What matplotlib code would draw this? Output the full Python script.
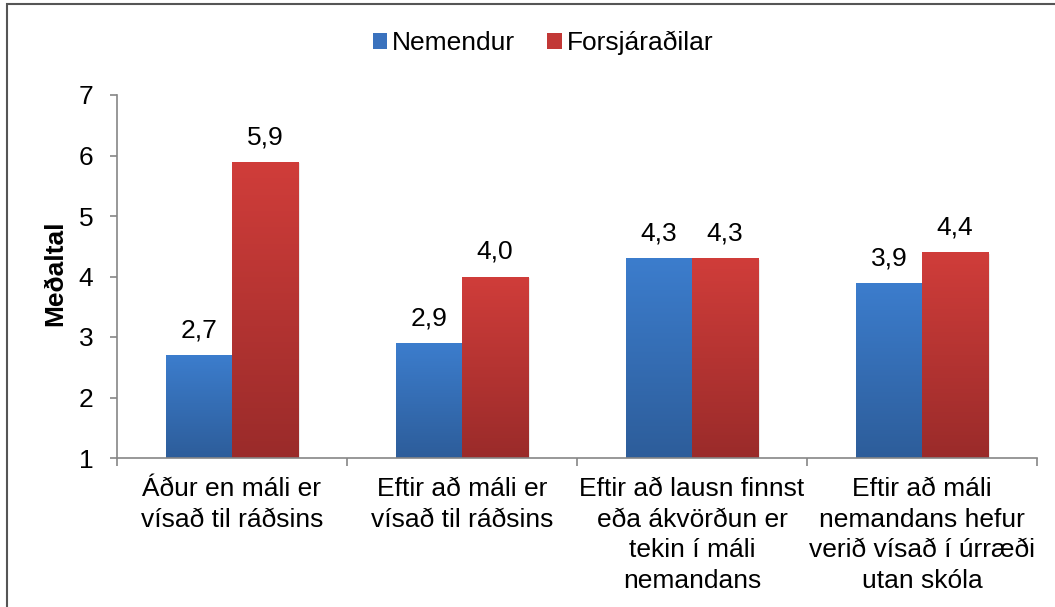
import matplotlib
matplotlib.use("Agg")
import matplotlib.pyplot as plt
import numpy as np
from matplotlib.patches import Rectangle, Patch
from matplotlib.colors import LinearSegmentedColormap

plt.rcParams['font.family'] = ['Liberation Sans', 'DejaVu Sans']

categories = ["Áður en máli er\nvísað til ráðsins",
              "Eftir að máli er\nvísað til ráðsins",
              "Eftir að lausn finnst\neða ákvörðun er\ntekin í máli\nnemandans",
              "Eftir að máli\nnemandans hefur\nverið vísað í úrræði\nutan skóla"]
series_names = ["Nemendur", "Forsjáraðilar"]
nemendur = [2.7, 2.9, 4.3, 3.9]
forsjaradilar = [5.9, 4.0, 4.3, 4.4]
value_labels_n = ["2,7", "2,9", "4,3", "3,9"]
value_labels_f = ["5,9", "4,0", "4,3", "4,4"]
yticks = [1, 2, 3, 4, 5, 6, 7]

blue_top, blue_bot = "#3C7DCD", "#2D5D9A"
red_top, red_bot = "#D03D3A", "#9A2B2A"

fig = plt.figure(figsize=(10.55, 6.07), dpi=100)
ax = fig.add_axes([117/1055, 1-458/607, (1037-117)/1055, (458-95)/607])

fs = 19
x = np.arange(len(categories))
w = 0.287
base = 1

def grad_bar(xc, h, ctop, cbot):
    cmap = LinearSegmentedColormap.from_list("g", [cbot, ctop])
    sh = Rectangle((xc - w/2 + 0.01, base), w, h - base - 0.02, facecolor="#000000",
                   alpha=0.08, edgecolor="none", zorder=1)
    ax.add_patch(sh)
    r = Rectangle((xc - w/2, base), w, h - base, facecolor="none", edgecolor="none", zorder=2)
    ax.add_patch(r)
    grad = np.linspace(0, 1, 256).reshape(-1, 1)
    im = ax.imshow(grad, extent=(xc - w/2, xc + w/2, base, h), origin="lower",
                   cmap=cmap, aspect="auto", zorder=2)
    im.set_clip_path(r)

for i in range(len(categories)):
    grad_bar(x[i] - w/2, nemendur[i], blue_top, blue_bot)
    grad_bar(x[i] + w/2, forsjaradilar[i], red_top, red_bot)
    ax.annotate(value_labels_n[i], (x[i] - w/2, nemendur[i]), xytext=(0, 9),
                textcoords="offset points", ha="center", va="bottom", fontsize=fs)
    ax.annotate(value_labels_f[i], (x[i] + w/2, forsjaradilar[i]), xytext=(0, 9),
                textcoords="offset points", ha="center", va="bottom", fontsize=fs)

ax.set_xlim(-0.5, 3.5)
ax.set_ylim(1, 7)
ax.set_yticks(yticks)
ax.set_yticklabels([str(t) for t in yticks], fontsize=fs)
ax.set_xticks(x)
ax.set_xticklabels(categories, fontsize=fs, va="top", linespacing=1.34)
ax.tick_params(axis="x", length=0, pad=14)
ax.set_xticks(np.arange(-0.5, 4.0, 1.0), minor=True)
ax.tick_params(axis="x", which="minor", length=6, color="#868686", width=1.2)
ax.tick_params(axis="y", length=5, color="#868686", width=1.2, pad=12)
for s in ["top", "right"]:
    ax.spines[s].set_visible(False)
for s in ["left", "bottom"]:
    ax.spines[s].set_color("#868686")
    ax.spines[s].set_linewidth(1.2)
ax.set_ylabel("Meðaltal", fontsize=19, fontweight="bold", labelpad=8)
ax.yaxis.set_label_coords(-50/920, 0.51)

handles = [Patch(facecolor="#3A72BE", edgecolor="none"),
           Patch(facecolor="#C23836", edgecolor="none")]
fig.legend(handles, series_names, loc="center", bbox_to_anchor=(543/1055, 1-43/607),
           ncol=2, frameon=False, fontsize=fs, handlelength=0.55, handleheight=0.55,
           handletextpad=0.2, columnspacing=1.2)

frame = Rectangle((7/1055, -0.05), 1.2, 1 - 4/607 + 0.05, transform=fig.transFigure,
                  facecolor="none", edgecolor="#555555", linewidth=1.5, clip_on=False)
fig.patches.append(frame)

fig.savefig("out.png", dpi=100)
